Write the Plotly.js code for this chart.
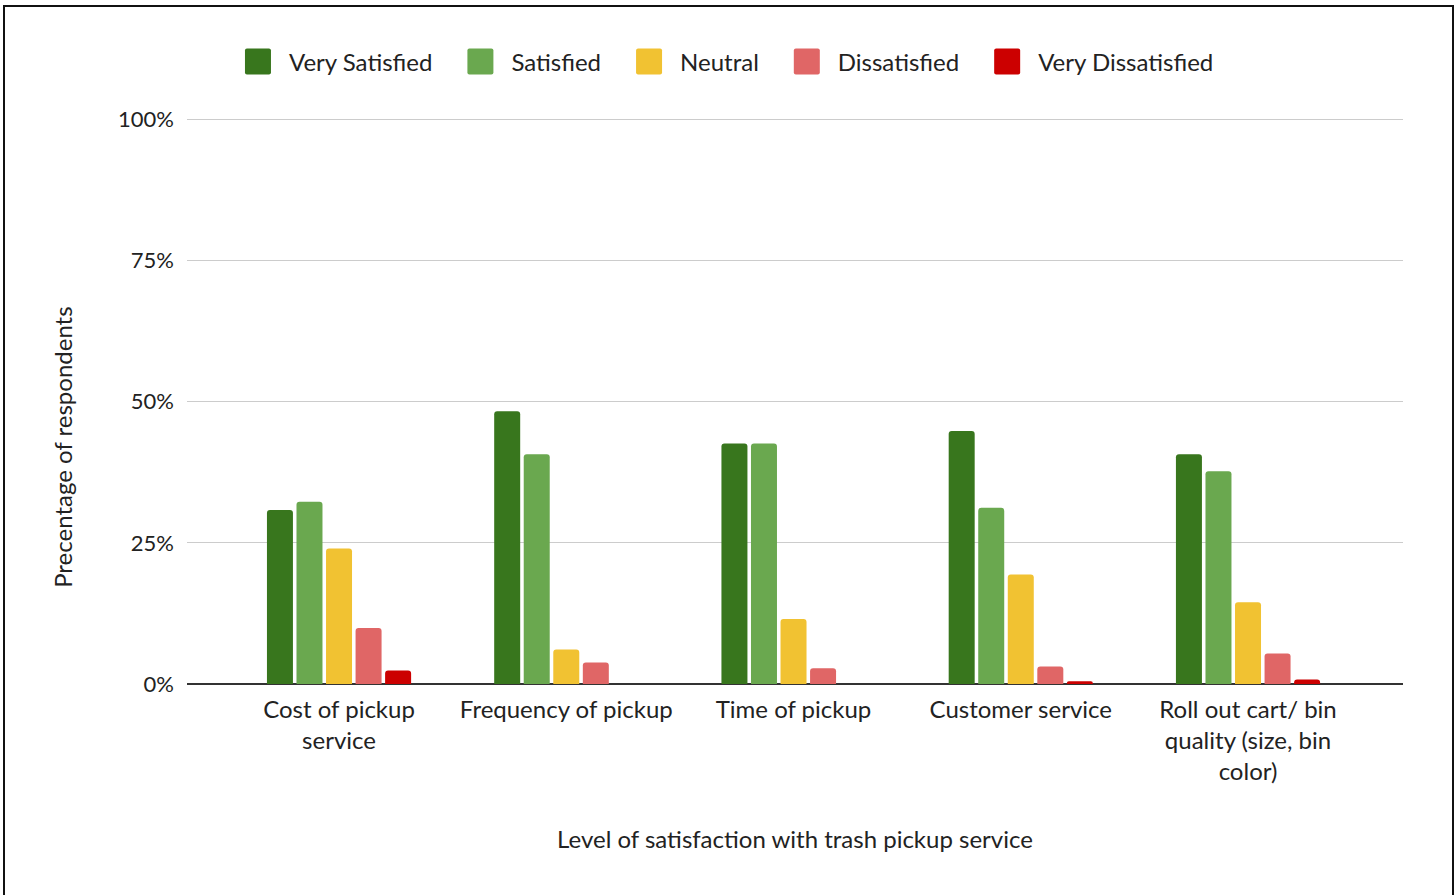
<!DOCTYPE html>
<html>
<head>
<meta charset="utf-8">
<script src="https://cdn.plot.ly/plotly-3.0.1.min.js"></script>
<style>
  html, body { margin: 0; padding: 0; background: #fff; overflow: hidden; }
  #frame {
    position: absolute; left: 3px; top: 5px;
    width: 1447px; height: 900px;
    border: 2px solid #111;
    background: #fff;
  }
  #chart { width: 1447px; height: 900px; }
</style>
</head>
<body>
<div id="frame"><div id="chart"></div></div>
<script>
// Survey: level of satisfaction with trash pickup service (% of respondents)
const categories = [
  "Cost of pickup<br>service",
  "Frequency of pickup",
  "Time of pickup",
  "Customer service",
  "Roll out cart/ bin<br>quality (size, bin<br>color)"
];
const verySatisfied    = [30.8, 48.3, 42.6, 44.8, 40.7];
const satisfied        = [32.3, 40.7, 42.6, 31.2, 37.7];
const neutral          = [24.0,  6.1, 11.5, 19.4, 14.5];
const dissatisfied     = [ 9.9,  3.8,  2.8,  3.1,  5.4];
const veryDissatisfied = [ 2.4,  0.0,  0.0,  0.5,  0.8];

const seriesNames  = ["Very Satisfied", "Satisfied", "Neutral", "Dissatisfied", "Very Dissatisfied"];
const seriesValues = [verySatisfied, satisfied, neutral, dissatisfied, veryDissatisfied];
const seriesColors = ["#38761d", "#6aa84f", "#f1c232", "#e06666", "#cc0000"];

const yTicks = [0, 25, 50, 75, 100];
const yTickText = ["0%", "25%", "50%", "75%", "100%"];

const FONT = "Lato, 'Open Sans', sans-serif";
const TEXT = "#222222";
const FS = 24;

const traces = seriesNames.map((name, i) => ({
  type: "bar",
  name: name,
  x: categories,
  y: seriesValues[i],
  marker: { color: seriesColors[i], cornerradius: 3, line: { width: 0 } },
  hovertemplate: "%{y:.1f}%<extra>" + name + "</extra>"
}));

const layout = {
  width: 1447,
  height: 900,
  margin: { l: 182, r: 49, t: 111, b: 223 },
  paper_bgcolor: "#ffffff",
  plot_bgcolor: "#ffffff",
  font: { family: FONT, size: FS, color: TEXT },
  barmode: "group",
  bargap: 0.35,
  bargroupgap: 0.12,
  showlegend: true,
  legend: {
    orientation: "h",
    x: 0.023, xanchor: "left",
    y: 1.099, yanchor: "middle",
    font: { family: FONT, size: FS, color: TEXT },
    itemwidth: 64,
    bgcolor: "rgba(0,0,0,0)"
  },
  xaxis: {
    type: "category",
    range: [-0.669, 4.682],
    showgrid: false,
    showline: false,
    zeroline: false,
    ticks: "",
    ticklabelstandoff: 9,
    tickfont: { family: FONT, size: FS, color: TEXT },
    title: {
      text: "Level of satisfaction with trash pickup service",
      font: { family: FONT, size: FS, color: TEXT },
      standoff: 46
    }
  },
  yaxis: {
    range: [0, 100.25],
    tickvals: yTicks,
    ticktext: yTickText,
    showgrid: true,
    gridcolor: "#cccccc",
    gridwidth: 1,
    zeroline: true,
    zerolinecolor: "#333333",
    zerolinewidth: 2,
    showline: false,
    ticks: "",
    ticklabelstandoff: 12,
    tickfont: { family: FONT, size: 22, color: TEXT },
    fixedrange: true
  },
  annotations: [{
    text: "Precentage of respondents",
    xref: "paper", yref: "paper",
    x: -0.102, y: 0.419,
    xanchor: "center", yanchor: "middle",
    textangle: -90,
    showarrow: false,
    font: { family: FONT, size: FS, color: TEXT }
  }]
};

Plotly.newPlot("chart", traces, layout, { displayModeBar: false, staticPlot: true })
  .then(gd => {
    // Larger rounded square swatches for the legend entries, set 18px before the label
    gd.querySelectorAll(".legend .legendpoints path").forEach(p => {
      p.setAttribute("d", "M-7,-11Q-7,-13 -5,-13H17Q19,-13 19,-11V11Q19,13 17,13H-5Q-7,13 -7,11Z");
    });
  });
</script>
</body>
</html>
